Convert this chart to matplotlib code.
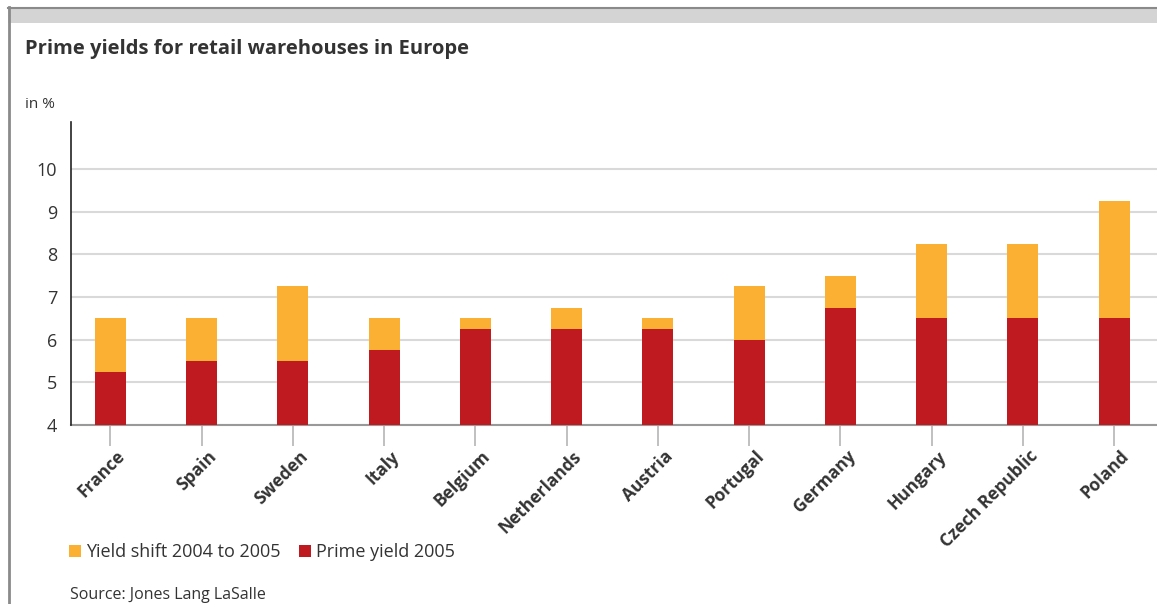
import matplotlib.pyplot as plt
from matplotlib.patches import Patch, Rectangle
from matplotlib.lines import Line2D
from matplotlib.transforms import ScaledTranslation

# prime yields 2005 and shift versus 2004 (percent)
countries = ['France', 'Spain', 'Sweden', 'Italy', 'Belgium', 'Netherlands',
             'Austria', 'Portugal', 'Germany', 'Hungary', 'Czech Republic', 'Poland']
prime_2005 = [5.25, 5.5, 5.5, 5.75, 6.25, 6.25, 6.25, 6.0, 6.75, 6.5, 6.5, 6.5]
shift_04_05 = [1.25, 1.0, 1.75, 0.75, 0.25, 0.5, 0.25, 1.25, 0.75, 1.75, 1.75, 2.75]
yticks = [4, 5, 6, 7, 8, 9, 10]

RED = '#BE1A20'
ORANGE = '#FBB034'
TXT = '#333333'

plt.rcParams['font.family'] = ['Open Sans', 'DejaVu Sans']

W, H = 1157, 604
fig = plt.figure(figsize=(W / 100, H / 100), dpi=100)

# frame: grey band on top and a thin line down the left
fig.add_artist(Rectangle((8 / W, 1 - 23 / H), 1, 16 / H, transform=fig.transFigure,
                         facecolor='#d4d4d4', edgecolor='none'))
fig.add_artist(Line2D([8 / W, 1], [1 - 7.5 / H] * 2, transform=fig.transFigure,
                      color='#8a8a8a', lw=1.5))
fig.add_artist(Line2D([9 / W] * 2, [0, 1 - 7 / H], transform=fig.transFigure,
                      color='#8a8a8a', lw=2))

fig.text(25 / W, 1 - 49 / H, 'Prime yields for retail warehouses in Europe',
         fontsize=14.5, fontweight='bold', color=TXT, va='center', ha='left')
fig.text(25 / W, 1 - 104 / H, 'in %', fontsize=11, color=TXT, va='center', ha='left')

ax = fig.add_axes([71 / W, 1 - 425 / H, (W - 71) / W, (425 - 122) / H])
x = range(len(countries))
ax.bar(x, prime_2005, width=0.34, bottom=0, color=RED, zorder=3)
ax.bar(x, shift_04_05, width=0.34, bottom=prime_2005, color=ORANGE, zorder=3)

ax.set_xlim(-0.43, 11.47)
ax.set_ylim(4, 11.1)
ax.set_yticks(yticks)
ax.set_yticklabels([str(t) for t in yticks], fontsize=13, color=TXT)
ax.yaxis.grid(True, color='#d9d9d9', lw=1.5, zorder=0)
ax.tick_params(axis='y', length=0, pad=10)

ax.set_xticks(list(x))
ax.set_xticklabels(countries, rotation=45, ha='right', va='top', rotation_mode='anchor',
                   fontsize=12.5, fontweight='bold', color=TXT)
ax.tick_params(axis='x', length=15, width=1.2, color='#b5b5b5', pad=1)
# nudge the slanted country names a little to the right of their ticks
shift = ScaledTranslation(6 / 100, 0, fig.dpi_scale_trans)
for lbl in ax.get_xticklabels():
    lbl.set_transform(lbl.get_transform() + shift)

for s in ['top', 'right']:
    ax.spines[s].set_visible(False)
ax.spines['left'].set_color('#222222')
ax.spines['left'].set_linewidth(1.2)
ax.spines['bottom'].set_color('#999999')
ax.spines['bottom'].set_linewidth(1.5)
ax.spines['left'].set_zorder(4)

handles = [Patch(facecolor=ORANGE, label='Yield shift 2004 to 2005'),
           Patch(facecolor=RED, label='Prime yield 2005')]
fig.legend(handles=handles, loc='center left', bbox_to_anchor=(53 / W, 1 - 552 / H),
           ncol=2, frameon=False, fontsize=13, handlelength=0.65, handleheight=0.65,
           handletextpad=0.3, columnspacing=1.0, labelcolor=TXT)

fig.text(70 / W, 1 - 595 / H, 'Source: Jones Lang LaSalle', fontsize=11.5,
         color=TXT, va='center', ha='left')

fig.savefig('out.png', dpi=100)
